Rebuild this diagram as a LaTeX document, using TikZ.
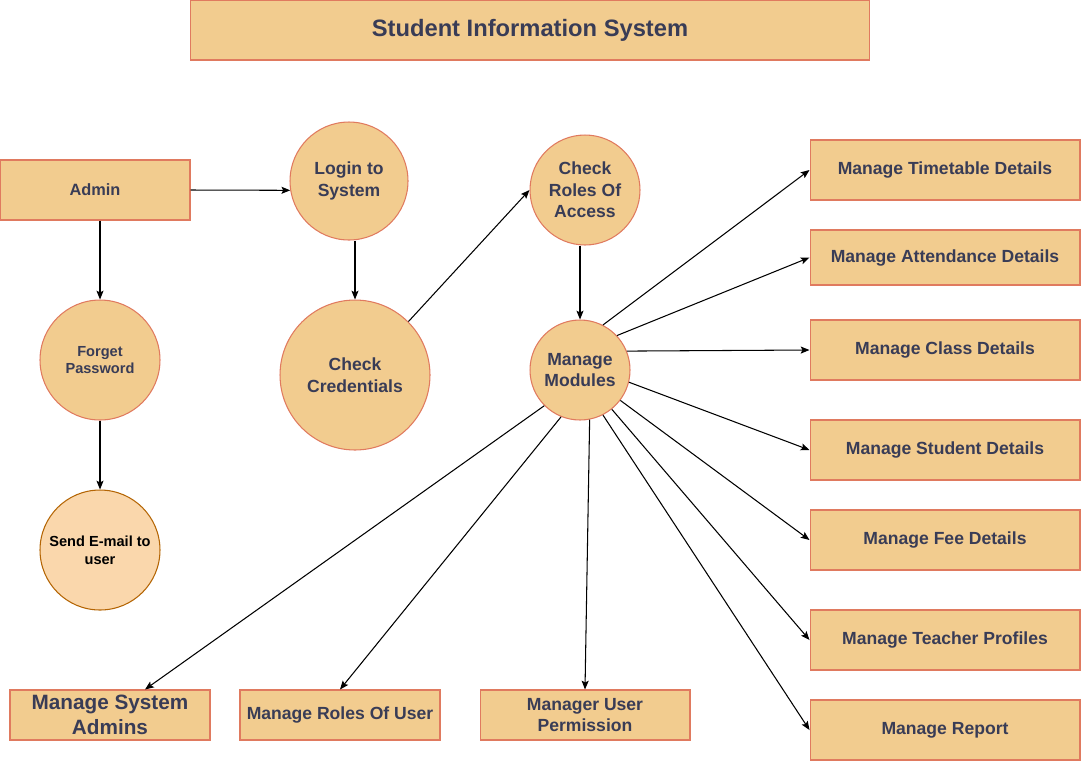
\documentclass[tikz,border=0pt]{standalone}
\usepackage{fontspec}
\setmainfont{Liberation Sans}
\usetikzlibrary{arrows.meta}
\definecolor{boxfill}{HTML}{F2CC8F}
\definecolor{boxline}{HTML}{E07A5F}
\definecolor{txt}{HTML}{393C56}
\definecolor{mailfill}{HTML}{FAD7AC}
\definecolor{mailline}{HTML}{B46504}
\tikzset{
 base/.style={fill=boxfill, draw=boxline, line width=0.6pt, text=txt, font=\bfseries\fontsize{10}{12.2}\selectfont, align=center, inner sep=0pt},
 rbox/.style={base, rectangle, minimum width=5.4cm, minimum height=1.2cm},
 bbox/.style={base, rectangle, minimum height=1cm},
 circ/.style={base, circle},
 conn/.style={-{Stealth[length=5pt,width=4pt,inset=1pt]}, line width=0.6pt, black}
}
\begin{document}
\begin{tikzpicture}[x=0.02cm,y=-0.02cm]
\useasboundingbox (0,0) rectangle (1081,762);
\node[base, minimum width=13.6cm, minimum height=1.2cm, font=\bfseries\fontsize{13.5}{16}\selectfont] (title) at (530,30) {Student Information System};
\node[rbox, minimum width=3.8cm, font=\bfseries\fontsize{9.3}{11}\selectfont] (admin) at (95,190) {Admin};
\node[circ, minimum size=2.36cm] (login) at (349,181) {Login to\\System};
\node[circ, minimum size=3cm] (cred) at (355,375) {Check\\Credentials};
\node[circ, minimum size=2.2cm] (roles) at (585,190) {Check\\Roles Of\\Access};
\node[circ, minimum size=2cm] (mm) at (580,370) {Manage\\Modules};
\node[circ, minimum size=2.4cm, font=\bfseries\fontsize{8.3}{10}\selectfont] (forget) at (100,360) {Forget\\Password};
\node[circ, minimum size=2.4cm, fill=mailfill, draw=mailline, text=black, font=\bfseries\fontsize{8.3}{10}\selectfont] (mail) at (100,550) {Send E-mail to\\user};

\node[rbox] (tt) at (945,170) {Manage Timetable Details};
\node[rbox, minimum height=1.1cm] (att) at (945,257.5) {Manage Attendance Details};
\node[rbox] (cls) at (945,350) {Manage Class Details};
\node[rbox] (stu) at (945,450) {Manage Student Details};
\node[rbox] (fee) at (945,540) {Manage Fee Details};
\node[rbox] (tea) at (945,640) {Manage Teacher Profiles};
\node[rbox] (rep) at (945,730) {Manage Report};

\node[bbox, minimum width=4cm, font=\bfseries\fontsize{11.8}{14}\selectfont] (sys) at (110,715) {Manage System\\Admins};
\node[bbox, minimum width=4cm] (rou) at (340,715) {Manage Roles Of User};
\node[bbox, minimum width=4.2cm] (perm) at (585,715) {Manager User\\Permission};

\draw[conn] (admin.east) -- (login.189);
\draw[conn] (admin.south -| forget.north) -- (forget.north);
\draw[conn] (forget.south) -- (mail.north);
\draw[conn] (login.south -| cred.north) -- (cred.north);
\draw[conn] (cred.45) -- (roles.west);
\draw[conn] (roles.south -| mm.north) -- (mm.north);

\draw[conn] (mm.63) -- (tt.west);
\draw[conn] (mm.43) -- (att.west);
\draw[conn] (mm.22) -- (cls.west);
\draw[conn] (mm.-14) -- (stu.west);
\draw[conn] (mm.-37) -- (fee.west);
\draw[conn] (mm.-51) -- (tea.west);
\draw[conn] (mm.-63) -- (rep.west);
\draw[conn] (mm.-135) -- ([xshift=0.7cm]sys.north);
\draw[conn] (mm.-112) -- (rou.north);
\draw[conn] (mm.-79) -- (perm.north);
\end{tikzpicture}
\end{document}
